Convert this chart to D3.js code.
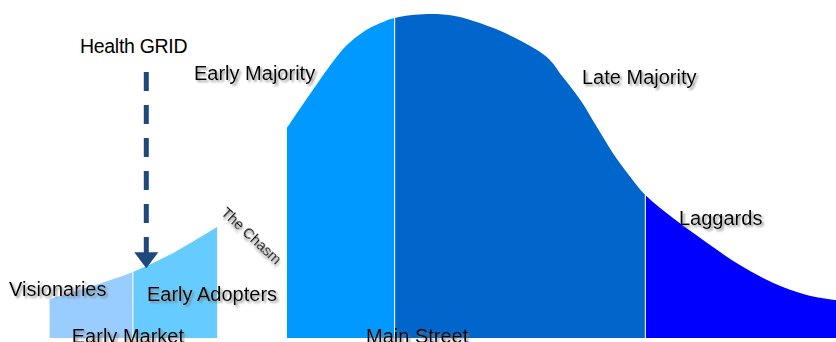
<!DOCTYPE html>
<html>
<head>
<meta charset="utf-8">
<script src="https://cdn.jsdelivr.net/npm/d3@7"></script>
<style>
  html, body { margin: 0; padding: 0; background: #fff; }
  svg { display: block; }
  text { font-family: "Liberation Sans", Arial, sans-serif; fill: #000; }
</style>
</head>
<body>
<div class="canvas"></div>
<script>
const dims = { width: 836, height: 342 };

// early market curve (position 0-100 across, adoption 0-100 high)
const earlyX = [5.9, 10.9, 15.9, 20.9, 26.0];
const earlyY = [12.0, 16.0, 20.4, 26.5, 34.3];

// main market bell curve
const mainX = [34.3, 37.4, 39.8, 41.5, 43.4, 45.5, 47.2, 51.1, 54.4, 57.4, 61.4, 65.4, 67.3, 69.4, 71.4, 73.3, 75.4, 77.2, 80.5, 84.6, 88.5, 92.5, 96.5, 100];
const mainY = [64.8, 76.5, 85.2, 90.4, 94.4, 97.2, 98.8, 100, 99.4, 97.2, 92.9, 86.7, 80.6, 73.5, 65.1, 57.1, 49.7, 44.1, 37.0, 29.3, 22.5, 17.0, 13.3, 11.7];

// segments: name, from, to, colour
const segNames  = ['Visionaries', 'Early Adopters', 'Early Majority', 'Late Majority', 'Laggards'];
const segStart  = [5.9, 15.9, 34.3, 47.2, 77.2];
const segEnd    = [15.9, 26.0, 47.2, 77.2, 100];
const segCurve  = ['early', 'early', 'main', 'main', 'main'];
const segColour = ['#99ccff', '#66ccff', '#0099ff', '#0066cc', '#0000ff'];

// phase labels under the curves
const phaseNames = ['Early Market', 'Main Street'];
const phaseX = [15.3, 49.9];

const marker = { name: 'Health GRID', at: 17.5, tip: 21.5 };

const x = d3.scaleLinear().domain([0, 100]).range([0, dims.width]);
const y = d3.scaleLinear().domain([0, 100]).range([338, 14]);

const svg = d3.select('.canvas').append('svg')
  .attr('width', dims.width)
  .attr('height', dims.height);

const defs = svg.append('defs');
const shadow = defs.append('filter').attr('id', 'shadow')
  .attr('x', '-10%').attr('y', '-30%').attr('width', '130%').attr('height', '180%');
shadow.append('feDropShadow')
  .attr('dx', 2).attr('dy', 2).attr('stdDeviation', 0.9)
  .attr('flood-color', '#777').attr('flood-opacity', 0.75);

const curves = {
  early: earlyX.map((d, i) => ({ x: d, y: earlyY[i] })),
  main: mainX.map((d, i) => ({ x: d, y: mainY[i] }))
};

const area = d3.area()
  .x(d => x(d.x))
  .y0(y(0))
  .y1(d => y(d.y))
  .curve(d3.curveCatmullRom.alpha(0.5));

// clip each segment out of its curve
segNames.forEach((name, i) => {
  defs.append('clipPath').attr('id', 'clip' + i)
    .append('rect')
    .attr('x', x(segStart[i]))
    .attr('y', 0)
    .attr('width', x(segEnd[i]) - x(segStart[i]))
    .attr('height', dims.height);
});

svg.append('g').selectAll('path')
  .data(segNames)
  .enter().append('path')
  .attr('d', (d, i) => area(curves[segCurve[i]]))
  .attr('clip-path', (d, i) => `url(#clip${i})`)
  .attr('fill', (d, i) => segColour[i]);

// white dividers between segments
const yAt = (pts, xv) => {
  const p = pts.find(d => Math.abs(d.x - xv) < 1e-6);
  return p ? p.y : 0;
};
const dividers = [[15.9, 'early'], [47.2, 'main'], [77.2, 'main']];
svg.append('g').selectAll('line')
  .data(dividers)
  .enter().append('line')
  .attr('x1', d => x(d[0])).attr('x2', d => x(d[0]))
  .attr('y1', d => y(yAt(curves[d[1]], d[0])))
  .attr('y2', y(0))
  .attr('stroke', '#fff')
  .attr('stroke-opacity', 0.85)
  .attr('stroke-width', 1.2);

// labels
const labelX = [9, 147, 194, 582, 679];
const labelY = [296, 300.5, 80, 83.5, 224.5];
svg.append('g').selectAll('text')
  .data(segNames)
  .enter().append('text')
  .attr('x', (d, i) => labelX[i])
  .attr('y', (d, i) => labelY[i])
  .attr('font-size', 20)
  .attr('filter', 'url(#shadow)')
  .text(d => d);

svg.append('g').selectAll('text')
  .data(phaseNames)
  .enter().append('text')
  .attr('x', (d, i) => x(phaseX[i]))
  .attr('y', 343)
  .attr('text-anchor', 'middle')
  .attr('font-size', 20)
  .attr('filter', 'url(#shadow)')
  .text(d => d);

// the chasm
svg.append('text')
  .attr('transform', 'translate(252,235) rotate(43)')
  .attr('text-anchor', 'middle')
  .attr('dominant-baseline', 'central')
  .attr('font-size', 15)
  .attr('letter-spacing', -0.2)
  .attr('filter', 'url(#shadow)')
  .text('The Chasm');

// marker arrow
const mx = x(marker.at);
const tipY = y(marker.tip);
svg.append('text')
  .attr('x', 80).attr('y', 53)
  .attr('font-size', 19.5)
  .attr('letter-spacing', -0.3)
  .text(marker.name);

svg.append('line')
  .attr('x1', mx).attr('x2', mx)
  .attr('y1', 72).attr('y2', tipY - 14)
  .attr('stroke', '#1f497d')
  .attr('stroke-width', 5)
  .attr('stroke-dasharray', '19 14');

svg.append('path')
  .attr('d', `M${mx - 12},${tipY - 16} L${mx + 12},${tipY - 16} L${mx},${tipY} Z`)
  .attr('fill', '#1f497d');
</script>
</body>
</html>
